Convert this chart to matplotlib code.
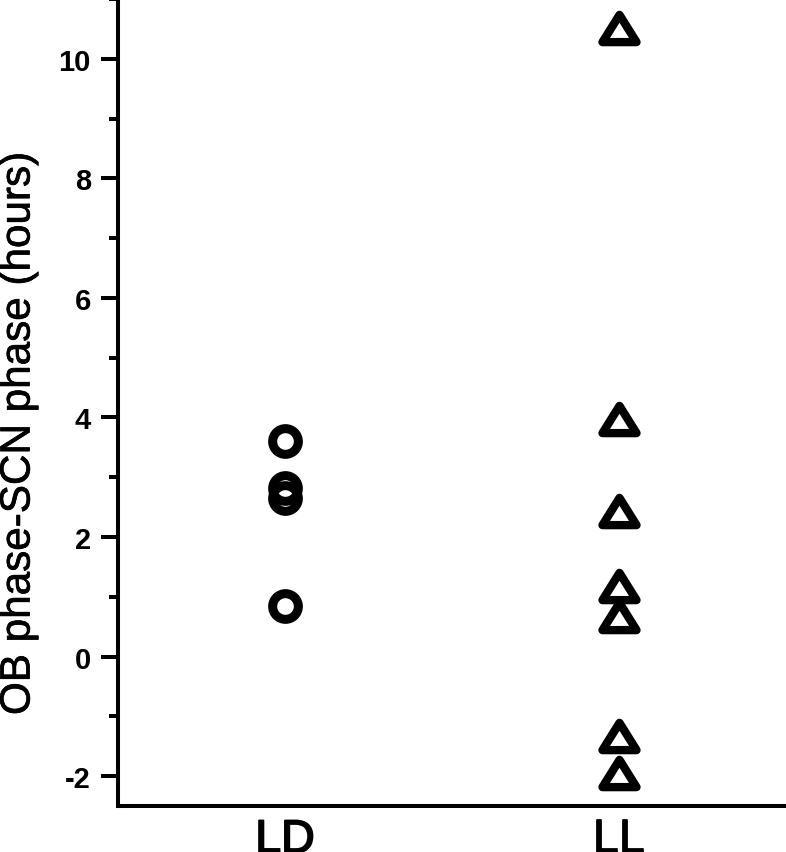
import matplotlib
matplotlib.use("Agg")
import matplotlib.pyplot as plt
import matplotlib.patheffects as pe
from matplotlib.path import Path
from matplotlib.ticker import MultipleLocator

groups = ["LD", "LL"]
ld_values = [3.61, 2.82, 2.66, 0.85]
ll_values = [10.51, 3.97, 2.43, 1.18, 0.68, -1.33, -1.95]
y_ticks = [-2, 0, 2, 4, 6, 8, 10]

plt.rcParams['font.family'] = ['Liberation Sans', 'DejaVu Sans']

fig = plt.figure(figsize=(7.86, 8.53), dpi=100)
ax = fig.add_axes([118/786, 1-807/853, 1-118/786, 807/853])

tri = Path([(-1, -0.8), (1, -0.8), (0, 0.8), (-1, -0.8)],
           [Path.MOVETO, Path.LINETO, Path.LINETO, Path.CLOSEPOLY])

ax.plot([0]*len(ld_values), ld_values, linestyle='none', marker='o',
        markersize=18.5, markerfacecolor='none', markeredgecolor='black',
        markeredgewidth=6.5, clip_on=False)
ax.plot([1]*len(ll_values), ll_values, linestyle='none', marker=tri,
        markersize=24.5, markerfacecolor='none', markeredgecolor='black',
        markeredgewidth=6.0, solid_joinstyle='round', clip_on=False)

ax.set_xlim(-0.5, 1.5)
ax.set_ylim(-2.5, 11)
ax.set_xticks([0, 1])
ax.set_xticklabels(groups, fontsize=33.5)
thick = [pe.withStroke(linewidth=1.3, foreground='black')]
for t in ax.get_xticklabels():
    t.set_path_effects(thick)
ax.set_yticks(y_ticks)
ax.set_yticklabels([str(v) for v in y_ticks], fontsize=21, fontweight='bold')
ax.yaxis.set_minor_locator(MultipleLocator(1))

for s in ['top', 'right']:
    ax.spines[s].set_visible(False)
for s in ['left', 'bottom']:
    ax.spines[s].set_linewidth(2.9)

ax.tick_params(axis='y', which='major', length=12.5, width=2.9, pad=7, direction='out')
ax.tick_params(axis='y', which='minor', length=6.5, width=2.9, direction='out')
ax.tick_params(axis='x', which='both', length=0, pad=9)

ylab = ax.set_ylabel("OB phase-SCN phase (hours)", fontsize=30.4)
ylab.set_path_effects([pe.withStroke(linewidth=0.5, foreground='black')])
ax.yaxis.set_label_coords(-0.119, 0.462)

fig.savefig("out.png", dpi=100)
